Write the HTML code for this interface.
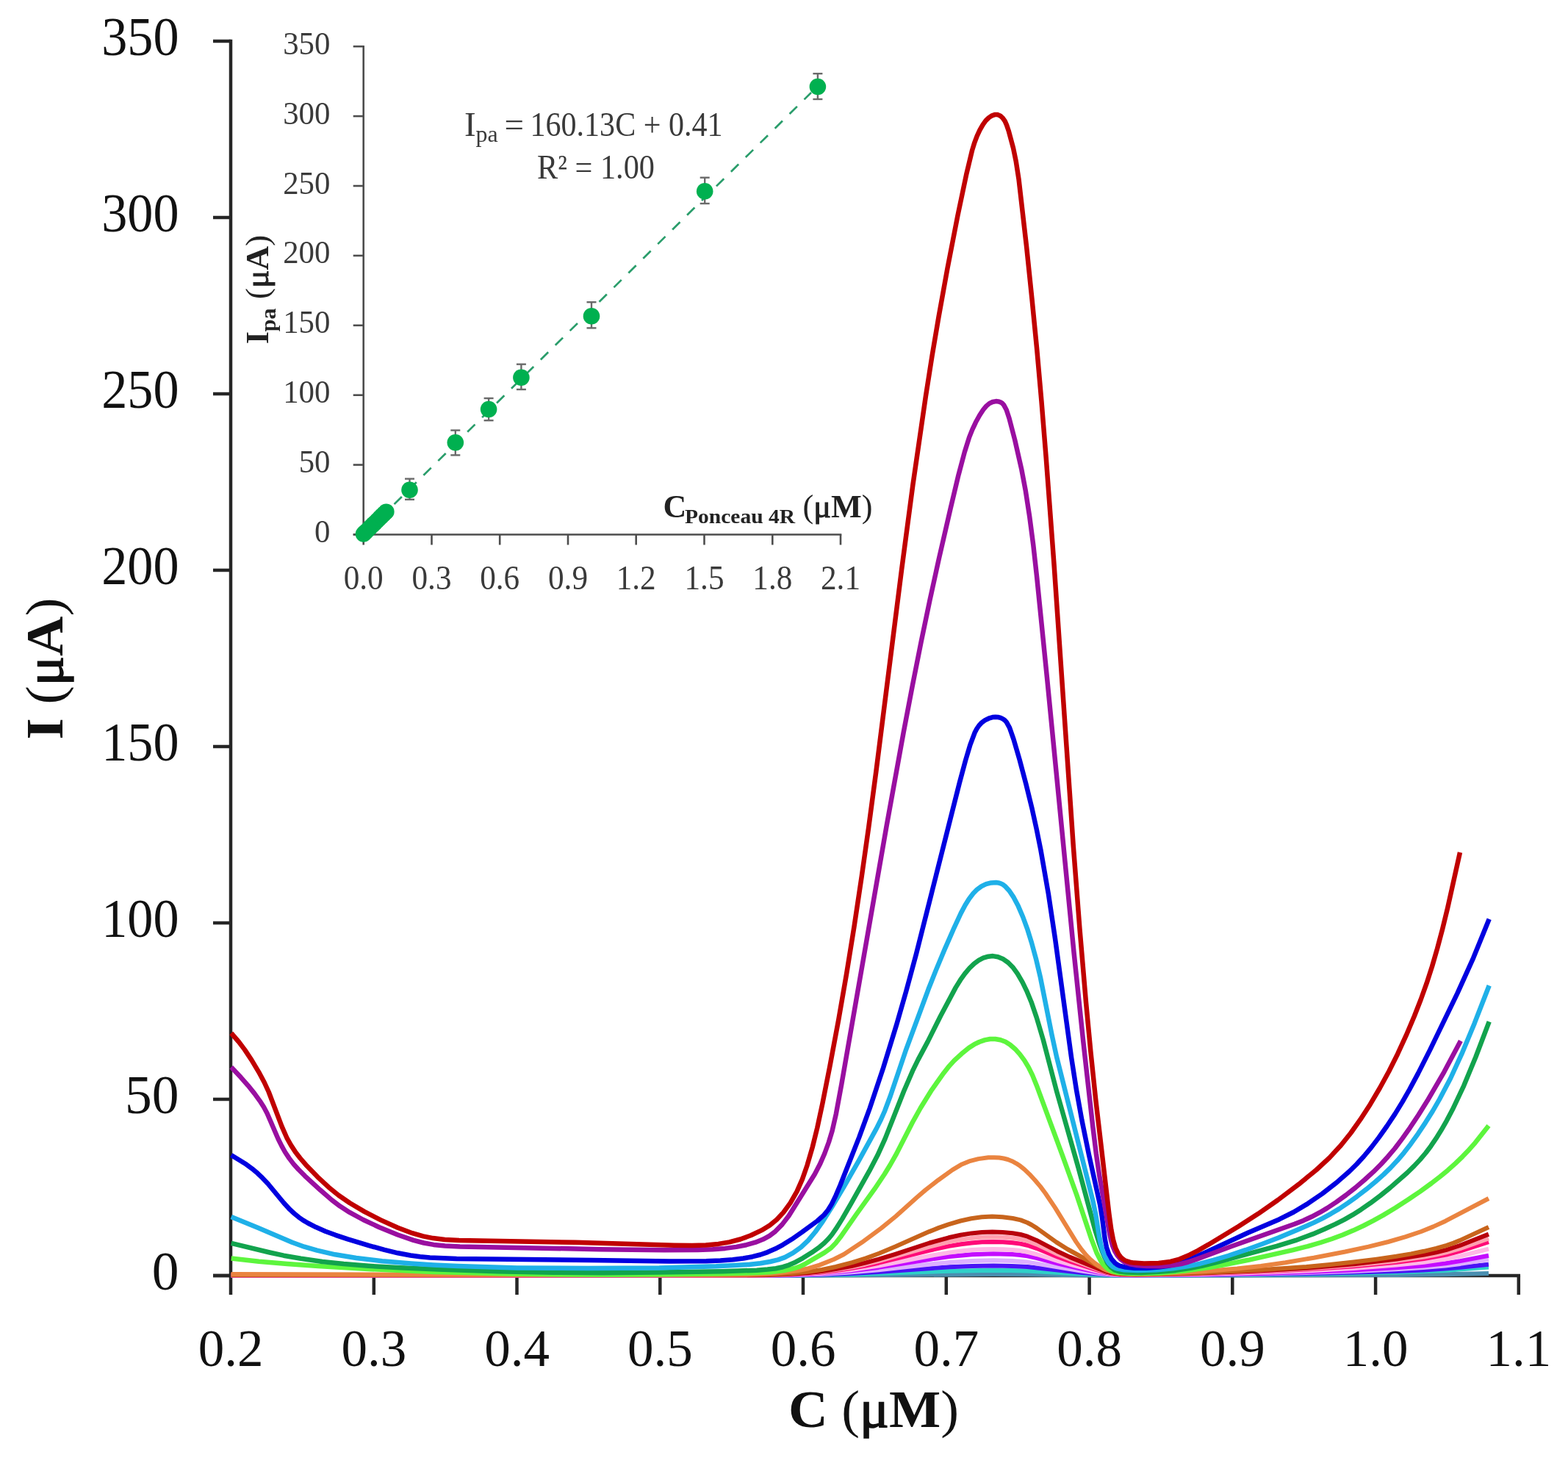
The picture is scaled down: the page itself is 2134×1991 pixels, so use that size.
<!DOCTYPE html><html><head><meta charset="utf-8"><style>html,body{margin:0;padding:0;background:#fff;}svg{display:block}</style></head><body><svg xmlns="http://www.w3.org/2000/svg" width="2134" height="1991" viewBox="0 0 2134 1991">
<rect width="2134" height="1991" fill="#fff"/>
<g stroke="#262626" stroke-width="4.5" fill="none" stroke-linecap="butt">
<line x1="314.0" y1="53.8" x2="314.0" y2="1762.0"/>
<line x1="290.0" y1="1736.0" x2="2069.04" y2="1736.0"/>
<line x1="290.0" y1="1736.0" x2="314.0" y2="1736.0"/>
<line x1="290.0" y1="1496.0" x2="314.0" y2="1496.0"/>
<line x1="290.0" y1="1256.0" x2="314.0" y2="1256.0"/>
<line x1="290.0" y1="1016.0" x2="314.0" y2="1016.0"/>
<line x1="290.0" y1="776.0" x2="314.0" y2="776.0"/>
<line x1="290.0" y1="536.0" x2="314.0" y2="536.0"/>
<line x1="290.0" y1="296.0" x2="314.0" y2="296.0"/>
<line x1="290.0" y1="56.0" x2="314.0" y2="56.0"/>
<line x1="508.8" y1="1736.0" x2="508.8" y2="1762.0"/>
<line x1="703.5" y1="1736.0" x2="703.5" y2="1762.0"/>
<line x1="898.3" y1="1736.0" x2="898.3" y2="1762.0"/>
<line x1="1093.0" y1="1736.0" x2="1093.0" y2="1762.0"/>
<line x1="1287.8" y1="1736.0" x2="1287.8" y2="1762.0"/>
<line x1="1482.6" y1="1736.0" x2="1482.6" y2="1762.0"/>
<line x1="1677.3" y1="1736.0" x2="1677.3" y2="1762.0"/>
<line x1="1872.1" y1="1736.0" x2="1872.1" y2="1762.0"/>
<line x1="2066.8" y1="1736.0" x2="2066.8" y2="1762.0"/>
</g>
<g fill="none" stroke-linejoin="round" stroke-linecap="butt">
<path d="M314.7,1736.0 1076.4,1735.9 1351.5,1734.1 1397.7,1734.3 1512.0,1735.9 1632.8,1735.8 1900.6,1734.9 1966.2,1734.2 2026.0,1733.1" stroke="#4a8fb0" stroke-width="6"/>
<path d="M314.7,1735.9 1076.5,1735.7 1156.9,1734.5 1292.1,1729.7 1351.5,1728.8 1376.2,1729.0 1398.0,1729.6 1477.5,1734.1 1512.1,1735.5 1545.8,1735.7 1633.7,1735.3 1779.4,1733.9 1901.0,1731.4 1966.8,1728.9 2026.0,1724.5" stroke="#2fd0c8" stroke-width="6"/>
<path d="M314.7,1735.8 993.9,1735.9 1076.6,1735.5 1117.4,1734.7 1156.8,1733.2 1195.4,1731.0 1292.4,1724.3 1323.2,1723.0 1352.1,1722.5 1376.9,1722.9 1398.2,1724.1 1472.3,1731.9 1511.9,1735.1 1545.0,1735.6 1628.0,1735.1 1777.9,1733.2 1899.8,1730.0 1937.0,1728.4 1966.7,1726.6 1987.6,1724.8 2026.0,1720.7" stroke="#4a14f5" stroke-width="6"/>
<path d="M314.7,1735.7 994.2,1735.8 1076.6,1735.2 1117.5,1734.0 1156.9,1731.6 1195.4,1728.3 1266.1,1720.5 1292.4,1718.0 1323.2,1716.0 1352.2,1715.3 1377.6,1715.9 1398.4,1717.6 1468.4,1729.1 1495.9,1733.0 1512.2,1734.7 1525.6,1735.3 1544.7,1735.5 1627.6,1734.8 1713.0,1733.4 1777.6,1732.0 1841.6,1729.9 1899.7,1727.3 1937.2,1725.0 1967.0,1722.4 1987.4,1719.9 2026.0,1714.0" stroke="#dcb0ff" stroke-width="6"/>
<path d="M314.7,1735.6 995.1,1735.7 1043.7,1735.5 1077.0,1734.9 1117.7,1733.1 1157.3,1729.6 1195.5,1724.9 1265.8,1713.7 1292.2,1710.0 1322.8,1707.2 1351.9,1706.2 1377.9,1707.0 1388.6,1708.0 1398.4,1709.4 1411.0,1712.1 1441.8,1720.0 1463.8,1725.0 1495.3,1731.5 1512.3,1734.1 1525.6,1735.0 1544.6,1735.3 1626.4,1734.5 1712.2,1732.9 1777.6,1731.0 1841.6,1728.4 1899.6,1725.2 1937.3,1722.4 1967.3,1719.2 1987.3,1716.1 2026.0,1708.8" stroke="#c40cff" stroke-width="6"/>
<path d="M314.7,1735.6 995.8,1735.6 1043.8,1735.4 1077.2,1734.6 1117.8,1732.4 1157.6,1728.3 1195.6,1722.5 1265.7,1709.0 1292.0,1704.6 1308.0,1702.5 1322.7,1701.1 1337.0,1700.3 1351.5,1700.0 1365.1,1700.2 1377.9,1701.0 1388.6,1702.1 1398.3,1703.8 1410.9,1707.0 1441.0,1716.4 1461.7,1722.1 1495.5,1730.6 1512.6,1733.8 1525.7,1734.8 1544.7,1735.1 1629.0,1733.9 1714.0,1731.8 1777.9,1729.4 1842.1,1725.9 1900.2,1721.6 1937.7,1717.8 1968.0,1713.4 1987.2,1709.5 2026.0,1699.7" stroke="#ffb8e6" stroke-width="6"/>
<path d="M314.7,1735.4 996.5,1735.5 1044.0,1735.2 1077.3,1734.3 1098.7,1733.1 1118.0,1731.4 1137.1,1729.2 1158.1,1726.0 1177.0,1722.7 1195.7,1718.7 1265.4,1701.5 1291.6,1695.9 1307.7,1693.2 1322.2,1691.4 1336.6,1690.3 1351.0,1689.9 1364.9,1690.2 1378.0,1691.2 1388.6,1692.6 1398.3,1694.7 1410.6,1698.8 1439.9,1710.6 1458.8,1717.3 1495.6,1729.1 1505.5,1731.8 1512.9,1733.2 1526.0,1734.5 1545.2,1734.8 1630.4,1733.3 1714.6,1730.6 1778.2,1727.6 1842.6,1723.2 1900.5,1717.8 1938.0,1713.0 1968.3,1707.5 1987.2,1702.6 2026.0,1690.1" stroke="#ff0a78" stroke-width="6"/>
<path d="M314.7,1735.3 997.3,1735.4 1044.3,1735.1 1077.6,1734.0 1099.2,1732.6 1118.3,1730.7 1137.4,1728.1 1158.7,1724.5 1177.4,1720.7 1195.9,1716.2 1265.1,1696.6 1291.3,1690.1 1307.4,1687.0 1322.1,1684.9 1336.3,1683.6 1350.7,1683.2 1364.7,1683.6 1378.0,1684.7 1388.8,1686.3 1398.2,1688.7 1410.7,1693.4 1439.3,1706.7 1457.1,1713.9 1495.5,1728.0 1505.6,1731.1 1513.0,1732.9 1526.0,1734.2 1545.3,1734.7 1580.6,1734.3 1630.5,1733.0 1714.9,1730.0 1778.2,1726.7 1842.4,1721.8 1900.5,1715.9 1938.2,1710.5 1954.3,1707.6 1968.5,1704.4 1987.0,1699.2 2026.0,1685.3" stroke="#ffa0b0" stroke-width="6"/>
<path d="M314.7,1735.3 997.6,1735.3 1044.4,1735.0 1077.6,1733.7 1099.3,1732.2 1118.3,1730.1 1137.3,1727.1 1158.9,1723.0 1177.5,1718.7 1196.0,1713.7 1218.4,1706.8 1265.1,1691.5 1291.2,1684.3 1307.3,1680.8 1322.1,1678.4 1336.3,1677.0 1350.6,1676.5 1364.6,1676.9 1378.1,1678.2 1388.8,1680.0 1398.3,1682.7 1410.7,1687.9 1438.8,1702.7 1455.7,1710.6 1495.6,1726.9 1505.8,1730.6 1513.1,1732.5 1526.0,1734.0 1545.4,1734.5 1581.3,1734.0 1631.1,1732.7 1715.3,1729.3 1778.3,1725.7 1842.7,1720.2 1900.6,1713.6 1938.3,1707.6 1954.6,1704.3 1968.7,1700.8 1986.9,1695.0 2026.0,1679.6" stroke="#b8000c" stroke-width="6"/>
<path d="M314.7,1735.0 998.2,1735.1 1044.6,1734.6 1078.1,1732.9 1099.7,1730.8 1118.6,1728.0 1137.5,1724.0 1159.9,1718.1 1178.4,1712.4 1196.4,1705.7 1218.5,1696.5 1264.6,1676.1 1277.7,1670.9 1290.7,1666.4 1307.2,1661.5 1321.9,1658.2 1336.1,1656.3 1350.4,1655.6 1364.4,1656.2 1378.3,1658.0 1389.1,1660.4 1398.4,1664.0 1404.1,1667.0 1410.7,1671.1 1437.9,1690.6 1452.8,1700.0 1495.4,1723.5 1506.0,1728.7 1513.1,1731.3 1519.0,1732.5 1525.9,1733.4 1545.6,1734.2 1580.8,1733.7 1630.4,1732.2 1714.7,1728.2 1778.0,1723.9 1810.0,1721.0 1842.2,1717.5 1873.3,1713.7 1900.4,1709.8 1920.4,1706.4 1938.0,1702.8 1954.6,1698.9 1968.8,1694.8 1978.2,1691.6 1986.8,1688.1 2026.0,1670.0" stroke="#c8641c" stroke-width="6"/>
<path d="M314.7,1734.0 749.6,1735.1 964.3,1734.8 1012.2,1734.3 1040.6,1733.5 1062.6,1732.0 1085.6,1729.2 1100.3,1726.2 1115.3,1721.6 1135.1,1713.8 1148.5,1707.0 1173.0,1690.8 1199.4,1671.4 1219.2,1655.2 1247.6,1629.7 1259.4,1619.6 1276.6,1606.2 1296.2,1592.1 1307.9,1585.1 1318.9,1580.4 1331.5,1577.1 1345.1,1575.3 1352.8,1575.2 1359.8,1575.5 1366.0,1576.5 1371.8,1578.0 1377.3,1580.2 1383.1,1583.3 1388.8,1587.1 1394.4,1591.6 1400.9,1597.8 1408.7,1606.3 1416.0,1614.9 1422.8,1624.0 1436.0,1643.6 1464.6,1690.1 1471.9,1700.5 1478.7,1708.6 1484.1,1714.0 1490.0,1719.0 1496.0,1723.3 1501.6,1726.7 1506.9,1729.0 1512.4,1730.7 1518.5,1731.9 1525.7,1732.7 1537.0,1733.3 1551.7,1733.4 1592.0,1732.4 1641.0,1730.0 1683.8,1726.6 1715.9,1723.0 1749.5,1718.2 1788.0,1711.7 1830.7,1703.5 1862.5,1696.6 1889.4,1690.0 1913.0,1683.2 1934.2,1676.0 1950.6,1669.4 1967.3,1661.7 2026.0,1631.0" stroke="#ea8440" stroke-width="6"/>
<path d="M314.7,1712.6 352.3,1716.7 390.8,1720.0 433.0,1722.9 505.0,1727.2 589.1,1731.0 693.6,1733.6 763.5,1734.5 835.8,1734.7 913.1,1734.3 986.2,1733.3 1027.3,1732.3 1048.9,1731.2 1066.9,1729.1 1081.2,1726.0 1088.4,1723.6 1095.0,1720.5 1122.2,1704.6 1130.6,1698.7 1137.4,1691.8 1143.8,1683.6 1165.5,1652.5 1190.2,1618.2 1203.9,1597.8 1211.4,1585.5 1219.1,1571.9 1242.1,1527.0 1252.7,1508.0 1268.0,1483.3 1284.4,1460.2 1292.0,1450.6 1298.6,1443.4 1310.3,1432.7 1318.6,1426.0 1325.7,1421.4 1332.7,1418.0 1340.2,1415.4 1347.5,1414.0 1354.5,1414.0 1361.7,1415.3 1368.4,1417.8 1374.7,1421.7 1381.4,1427.4 1387.9,1434.6 1394.2,1443.1 1399.9,1452.6 1405.2,1463.4 1410.8,1477.2 1446.1,1572.9 1465.3,1626.1 1485.5,1686.6 1492.4,1704.7 1498.3,1716.3 1501.5,1720.8 1504.7,1724.3 1508.0,1727.0 1511.7,1729.1 1515.8,1730.6 1521.0,1731.8 1530.5,1732.8 1543.4,1733.3 1560.3,1733.1 1579.0,1732.4 1612.2,1729.6 1646.7,1724.7 1671.1,1720.3 1698.8,1714.8 1759.7,1701.1 1779.7,1696.1 1797.2,1691.0 1812.6,1686.0 1827.5,1680.5 1841.6,1674.6 1855.8,1668.0 1869.1,1661.2 1882.7,1653.6 1899.1,1643.7 1916.1,1632.8 1932.6,1621.6 1947.9,1610.5 1959.9,1601.2 1970.6,1592.4 1981.0,1583.1 1990.6,1573.8 1999.3,1564.7 2007.6,1555.3 2026.0,1532.0" stroke="#5df53d" stroke-width="6.5"/>
<path d="M314.7,1691.9 367.0,1704.5 386.1,1708.7 409.5,1712.8 438.7,1717.0 467.7,1720.1 501.5,1722.8 544.4,1725.3 597.2,1727.6 676.8,1730.2 752.9,1731.8 820.5,1732.2 895.1,1731.6 983.3,1730.2 1029.9,1728.7 1044.6,1727.6 1055.9,1726.2 1065.5,1724.2 1073.7,1721.6 1082.6,1717.7 1092.4,1712.3 1104.8,1704.6 1115.4,1697.1 1121.7,1691.8 1127.1,1686.3 1132.4,1680.0 1137.8,1672.2 1146.3,1658.6 1158.4,1637.6 1183.1,1593.7 1194.3,1572.3 1204.5,1549.9 1230.0,1485.3 1241.9,1457.7 1249.5,1442.1 1262.6,1417.6 1279.9,1383.0 1300.7,1343.9 1307.0,1333.7 1313.1,1325.1 1319.5,1317.5 1325.9,1311.3 1332.0,1306.9 1338.2,1303.7 1345.1,1301.7 1351.3,1301.1 1358.2,1302.2 1365.5,1305.3 1372.1,1310.0 1378.3,1316.2 1384.8,1325.1 1391.5,1336.6 1397.7,1349.4 1403.5,1363.4 1410.8,1384.9 1419.7,1414.9 1438.1,1485.2 1467.7,1589.5 1490.5,1674.3 1495.4,1690.1 1499.6,1702.3 1503.6,1711.8 1507.4,1718.9 1511.9,1724.7 1516.9,1728.3 1523.6,1730.5 1532.9,1731.6 1553.1,1731.9 1577.4,1730.8 1600.0,1728.9 1620.3,1725.9 1635.6,1722.9 1653.2,1718.7 1737.5,1695.9 1762.9,1688.2 1786.8,1679.4 1802.4,1672.8 1817.4,1665.9 1829.4,1659.8 1840.7,1653.4 1852.5,1645.9 1865.0,1637.3 1878.6,1627.1 1891.9,1616.4 1915.2,1596.0 1924.5,1586.9 1932.7,1578.1 1940.4,1569.0 1947.4,1559.7 1954.2,1549.7 1961.3,1538.3 1968.9,1525.1 1976.7,1510.3 1992.2,1477.6 2008.4,1438.5 2026.7,1390.4" stroke="#12a34d" stroke-width="6.5"/>
<path d="M314.7,1656.0 351.4,1670.9 397.6,1690.8 414.1,1696.7 431.4,1701.7 456.0,1707.3 484.8,1712.0 520.2,1716.2 559.3,1719.6 589.7,1721.6 622.9,1723.1 703.7,1725.4 800.1,1726.1 897.3,1725.5 974.6,1723.3 1019.1,1720.9 1034.8,1719.2 1048.2,1717.0 1059.1,1714.4 1068.2,1711.1 1079.2,1705.2 1090.1,1697.3 1099.9,1688.1 1109.6,1676.5 1119.9,1662.0 1132.8,1641.5 1148.1,1615.9 1168.5,1580.1 1192.8,1535.9 1199.1,1523.2 1204.2,1511.7 1211.6,1492.0 1232.5,1430.2 1263.5,1346.3 1273.7,1320.6 1285.2,1292.9 1298.0,1263.8 1307.7,1242.9 1313.6,1231.8 1318.9,1223.2 1324.4,1216.0 1330.0,1210.3 1335.8,1206.1 1342.0,1203.1 1348.8,1201.4 1355.6,1201.0 1358.9,1201.4 1361.9,1202.3 1364.7,1203.7 1367.6,1205.8 1373.6,1212.3 1379.7,1221.4 1385.8,1233.1 1392.2,1248.0 1398.2,1264.3 1404.0,1283.0 1410.3,1306.2 1415.9,1330.0 1431.6,1408.7 1438.0,1438.1 1487.2,1633.5 1491.1,1651.9 1496.0,1682.5 1498.2,1693.6 1501.0,1703.3 1504.6,1711.7 1509.1,1719.0 1511.6,1721.6 1514.3,1723.8 1517.3,1725.4 1520.8,1726.6 1530.0,1728.2 1548.1,1729.0 1574.3,1728.2 1596.0,1726.3 1616.0,1723.3 1633.3,1719.7 1651.5,1714.9 1671.5,1709.0 1695.0,1701.2 1717.7,1693.0 1739.9,1684.5 1765.6,1673.8 1787.6,1664.1 1799.8,1658.1 1811.3,1651.8 1822.5,1645.1 1834.1,1637.4 1846.8,1628.3 1859.6,1618.4 1871.9,1608.3 1882.8,1598.6 1892.6,1589.1 1901.8,1579.3 1910.7,1568.8 1919.9,1556.9 1930.0,1542.8 1940.1,1527.6 1949.9,1512.0 1959.1,1496.0 1974.1,1467.5 1989.3,1434.4 2006.8,1392.4 2026.7,1341.3" stroke="#1fb0e8" stroke-width="6.5"/>
<path d="M314.7,1572.1 335.1,1584.6 342.9,1590.3 350.1,1596.3 357.3,1603.2 364.7,1611.0 386.0,1636.7 394.7,1646.2 400.5,1651.5 406.4,1656.3 412.5,1660.6 419.1,1664.5 430.0,1670.1 442.9,1675.7 456.7,1680.8 473.3,1686.3 502.2,1695.1 523.1,1700.9 541.5,1705.3 558.7,1708.5 571.7,1710.3 585.0,1711.6 621.4,1713.0 804.4,1715.0 911.0,1716.6 961.1,1716.3 980.4,1715.5 997.2,1714.2 1011.6,1712.5 1024.2,1710.2 1034.9,1707.5 1044.7,1704.1 1055.0,1699.6 1065.4,1694.1 1077.5,1686.6 1091.4,1676.9 1112.4,1661.5 1121.5,1653.4 1126.9,1646.8 1131.9,1638.6 1137.5,1627.1 1143.8,1612.3 1169.4,1547.4 1183.8,1508.0 1202.1,1453.3 1220.4,1393.8 1233.2,1349.2 1246.8,1298.8 1305.9,1065.1 1313.9,1035.4 1320.3,1013.9 1326.5,997.3 1329.4,991.8 1332.5,987.2 1336.2,983.3 1340.6,980.1 1345.6,977.7 1350.9,976.1 1354.8,975.7 1358.3,976.0 1361.9,976.9 1365.3,978.6 1367.7,980.4 1369.9,982.9 1374.0,990.4 1379.5,1006.1 1387.6,1033.8 1396.4,1067.1 1404.7,1101.1 1410.7,1128.4 1416.4,1156.6 1426.9,1216.7 1436.2,1278.7 1458.1,1439.1 1465.0,1483.4 1472.4,1524.5 1481.9,1571.2 1497.3,1640.6 1499.9,1656.4 1503.8,1686.4 1506.0,1697.4 1509.0,1706.5 1513.0,1713.8 1517.9,1719.2 1520.5,1721.0 1523.6,1722.6 1531.8,1724.6 1544.0,1725.7 1560.5,1725.7 1577.1,1724.6 1588.2,1723.1 1598.6,1720.8 1609.4,1717.4 1622.4,1712.4 1642.8,1703.5 1698.2,1677.8 1740.9,1659.4 1760.7,1649.5 1779.3,1638.4 1799.4,1624.6 1819.0,1609.4 1836.3,1594.3 1846.5,1584.2 1856.3,1573.5 1866.4,1561.4 1876.7,1547.9 1887.6,1532.5 1898.5,1516.1 1908.6,1499.6 1918.1,1483.0 1930.1,1460.6 1946.4,1428.4 1983.4,1351.9 2005.2,1303.6 2026.7,1250.8" stroke="#0000e0" stroke-width="6.5"/>
<path d="M314.7,1452.3 327.9,1466.3 337.6,1477.3 346.3,1488.1 353.7,1498.3 359.1,1506.8 363.6,1515.2 378.6,1550.0 383.4,1559.6 387.9,1567.8 393.6,1576.4 399.7,1584.4 406.4,1591.8 414.9,1600.3 436.2,1619.8 451.6,1633.1 462.8,1641.6 475.8,1649.9 494.4,1660.0 516.3,1670.2 541.4,1680.5 562.8,1687.9 576.8,1691.5 590.2,1693.9 605.6,1695.4 625.9,1696.4 816.1,1700.2 904.1,1701.3 949.7,1701.1 970.0,1700.3 987.0,1698.9 1002.2,1696.9 1015.7,1694.2 1028.2,1690.7 1038.6,1686.6 1047.2,1681.8 1055.2,1675.8 1064.5,1666.4 1073.6,1654.5 1108.8,1598.0 1115.8,1584.6 1122.2,1570.0 1127.9,1554.5 1132.6,1539.0 1137.8,1516.2 1145.3,1475.6 1206.8,1122.9 1229.7,996.6 1241.8,933.2 1253.7,873.2 1265.5,816.7 1277.8,760.6 1293.5,692.5 1304.5,646.3 1312.7,615.5 1319.1,595.1 1323.3,584.6 1327.9,574.8 1333.3,565.0 1338.2,557.5 1342.3,552.6 1346.4,549.1 1350.8,547.0 1355.6,546.1 1358.8,546.4 1361.6,547.3 1364.0,548.8 1366.0,550.9 1369.7,557.7 1373.5,569.3 1381.2,598.8 1390.4,639.3 1395.8,667.9 1401.2,703.1 1406.3,741.8 1411.0,784.2 1425.2,924.5 1461.5,1295.9 1474.4,1418.5 1487.3,1533.3 1491.8,1569.7 1496.1,1599.1 1509.6,1676.3 1512.0,1687.7 1514.4,1696.1 1517.3,1702.9 1520.7,1708.6 1525.5,1714.0 1530.9,1717.7 1537.6,1720.3 1546.1,1721.9 1561.3,1723.0 1580.1,1723.2 1595.0,1722.1 1607.5,1720.0 1617.0,1717.5 1629.3,1713.4 1676.3,1696.0 1761.9,1665.8 1774.1,1660.9 1785.2,1655.8 1795.9,1650.2 1806.2,1644.1 1818.7,1635.9 1831.7,1626.5 1844.9,1616.1 1857.3,1605.5 1869.2,1594.7 1879.4,1584.5 1888.8,1574.2 1898.3,1563.0 1908.4,1549.6 1918.9,1534.8 1930.4,1517.5 1942.4,1498.3 1965.4,1458.8 1987.9,1416.4" stroke="#990fa0" stroke-width="6.5"/>
<path d="M314.7,1406.0 325.1,1418.0 333.1,1428.6 342.4,1442.6 352.1,1458.8 359.7,1473.0 365.7,1486.0 383.4,1532.6 390.7,1549.2 395.9,1558.4 401.8,1567.4 408.4,1576.0 416.3,1585.2 432.1,1601.6 447.3,1615.7 460.9,1626.7 476.2,1637.2 495.9,1648.9 518.3,1660.4 541.3,1670.8 561.1,1678.2 575.8,1682.4 589.5,1685.1 605.4,1686.9 624.9,1688.1 782.8,1690.8 917.6,1694.8 941.9,1695.0 960.6,1694.4 977.7,1692.9 992.7,1690.4 1007.5,1686.5 1021.8,1681.3 1036.3,1674.4 1047.7,1667.4 1057.1,1659.7 1066.1,1650.1 1075.6,1637.1 1084.6,1621.4 1091.9,1604.9 1098.6,1585.7 1105.7,1561.4 1112.3,1534.7 1119.2,1502.6 1129.3,1451.6 1141.2,1388.2 1152.0,1325.9 1162.5,1261.0 1172.8,1192.2 1182.3,1125.3 1192.3,1050.3 1227.2,774.3 1242.4,659.7 1259.9,539.2 1268.5,484.6 1277.4,431.9 1289.4,365.5 1303.4,293.5 1315.1,237.8 1323.2,204.1 1326.4,193.8 1329.7,185.1 1333.4,177.2 1337.7,169.6 1341.6,164.2 1345.8,160.1 1350.1,157.3 1354.3,155.9 1358.0,156.1 1361.5,157.7 1364.7,160.6 1367.7,164.9 1370.0,170.1 1372.6,177.7 1379.0,201.3 1382.8,219.9 1386.6,244.6 1397.1,335.9 1404.5,407.1 1411.2,475.4 1417.4,545.5 1423.6,621.7 1434.6,769.2 1460.8,1151.7 1469.5,1264.5 1478.1,1365.1 1484.5,1432.3 1491.2,1496.2 1509.4,1651.8 1512.4,1673.6 1515.2,1688.0 1518.3,1698.6 1522.2,1706.7 1524.6,1710.0 1527.2,1712.7 1530.3,1714.9 1533.7,1716.4 1537.8,1717.7 1543.2,1718.6 1557.1,1719.5 1576.8,1718.9 1592.9,1716.9 1605.3,1713.6 1619.1,1707.7 1630.5,1701.8 1644.8,1693.7 1685.6,1669.0 1712.7,1651.6 1739.3,1633.0 1767.6,1611.7 1791.6,1592.0 1809.3,1575.6 1825.1,1558.5 1838.3,1542.0 1851.3,1523.7 1864.8,1502.9 1878.0,1480.5 1890.3,1458.0 1902.2,1434.2 1913.8,1408.9 1924.9,1382.8 1933.6,1360.5 1941.6,1338.2 1949.1,1315.0 1956.1,1290.9 1962.9,1265.3 1970.2,1235.4 1987.0,1160.0" stroke="#c00000" stroke-width="6.5"/>
</g>
<g font-family="Liberation Serif, serif" font-size="73.5" fill="#111" text-anchor="end">
<text x="243.5" y="1755.0">0</text>
<text x="243.5" y="1515.0">50</text>
<text x="243.5" y="1275.0" textLength="105.3" lengthAdjust="spacingAndGlyphs">100</text>
<text x="243.5" y="1035.0" textLength="105.3" lengthAdjust="spacingAndGlyphs">150</text>
<text x="243.5" y="795.0" textLength="105.3" lengthAdjust="spacingAndGlyphs">200</text>
<text x="243.5" y="555.0" textLength="105.3" lengthAdjust="spacingAndGlyphs">250</text>
<text x="243.5" y="315.0" textLength="105.3" lengthAdjust="spacingAndGlyphs">300</text>
<text x="243.5" y="75.0" textLength="105.3" lengthAdjust="spacingAndGlyphs">350</text>
</g>
<g font-family="Liberation Serif, serif" font-size="71" fill="#111" text-anchor="middle">
<text x="314.0" y="1859">0.2</text>
<text x="508.8" y="1859">0.3</text>
<text x="703.5" y="1859">0.4</text>
<text x="898.3" y="1859">0.5</text>
<text x="1093.0" y="1859">0.6</text>
<text x="1287.8" y="1859">0.7</text>
<text x="1482.6" y="1859">0.8</text>
<text x="1677.3" y="1859">0.9</text>
<text x="1872.1" y="1859">1.0</text>
<text x="2066.8" y="1859">1.1</text>
</g>
<text font-family="Liberation Serif, serif" font-size="72" font-weight="bold" fill="#111" x="1073" y="1942" textLength="232" lengthAdjust="spacingAndGlyphs">C <tspan font-weight="normal">(</tspan><tspan font-weight="normal" stroke="#111" stroke-width="1.5">μ</tspan>M<tspan font-weight="normal">)</tspan></text>
<text font-family="Liberation Serif, serif" font-size="72" font-weight="bold" fill="#111" transform="translate(84.5,1006.5) rotate(-90)" textLength="193" lengthAdjust="spacingAndGlyphs">I <tspan font-weight="normal">(</tspan><tspan font-weight="normal" stroke="#111" stroke-width="1.5">μ</tspan>A<tspan font-weight="normal">)</tspan></text>
<g stroke="#4d4d4d" stroke-width="2.6" fill="none">
<line x1="494.7" y1="61.90000000000005" x2="494.7" y2="741.5"/>
<line x1="480.7" y1="727.5" x2="1145.32" y2="727.5"/>
<line x1="480.7" y1="727.5" x2="494.7" y2="727.5"/>
<line x1="480.7" y1="632.6" x2="494.7" y2="632.6"/>
<line x1="480.7" y1="537.7" x2="494.7" y2="537.7"/>
<line x1="480.7" y1="442.8" x2="494.7" y2="442.8"/>
<line x1="480.7" y1="347.9" x2="494.7" y2="347.9"/>
<line x1="480.7" y1="253.0" x2="494.7" y2="253.0"/>
<line x1="480.7" y1="158.1" x2="494.7" y2="158.1"/>
<line x1="480.7" y1="63.2" x2="494.7" y2="63.2"/>
<line x1="587.5" y1="727.5" x2="587.5" y2="741.5"/>
<line x1="680.2" y1="727.5" x2="680.2" y2="741.5"/>
<line x1="773.0" y1="727.5" x2="773.0" y2="741.5"/>
<line x1="865.7" y1="727.5" x2="865.7" y2="741.5"/>
<line x1="958.5" y1="727.5" x2="958.5" y2="741.5"/>
<line x1="1051.3" y1="727.5" x2="1051.3" y2="741.5"/>
<line x1="1144.0" y1="727.5" x2="1144.0" y2="741.5"/>
</g>
<g font-family="Liberation Serif, serif" font-size="43.5" fill="#3a3a3a" text-anchor="end">
<text x="449.5" y="738.0" textLength="21.4" lengthAdjust="spacingAndGlyphs">0</text>
<text x="449.5" y="643.1" textLength="42.8" lengthAdjust="spacingAndGlyphs">50</text>
<text x="449.5" y="548.2" textLength="64.3" lengthAdjust="spacingAndGlyphs">100</text>
<text x="449.5" y="453.3" textLength="64.3" lengthAdjust="spacingAndGlyphs">150</text>
<text x="449.5" y="358.4" textLength="64.3" lengthAdjust="spacingAndGlyphs">200</text>
<text x="449.5" y="263.5" textLength="64.3" lengthAdjust="spacingAndGlyphs">250</text>
<text x="449.5" y="168.6" textLength="64.3" lengthAdjust="spacingAndGlyphs">300</text>
<text x="449.5" y="73.7" textLength="64.3" lengthAdjust="spacingAndGlyphs">350</text>
</g>
<g font-family="Liberation Serif, serif" font-size="46" fill="#3a3a3a" text-anchor="middle">
<text x="494.7" y="802" textLength="54.0" lengthAdjust="spacingAndGlyphs">0.0</text>
<text x="587.5" y="802" textLength="54.0" lengthAdjust="spacingAndGlyphs">0.3</text>
<text x="680.2" y="802" textLength="54.0" lengthAdjust="spacingAndGlyphs">0.6</text>
<text x="773.0" y="802" textLength="54.0" lengthAdjust="spacingAndGlyphs">0.9</text>
<text x="865.7" y="802" textLength="54.0" lengthAdjust="spacingAndGlyphs">1.2</text>
<text x="958.5" y="802" textLength="54.0" lengthAdjust="spacingAndGlyphs">1.5</text>
<text x="1051.3" y="802" textLength="54.0" lengthAdjust="spacingAndGlyphs">1.8</text>
<text x="1144.0" y="802" textLength="54.0" lengthAdjust="spacingAndGlyphs">2.1</text>
</g>
<line x1="496.7" y1="725.5" x2="1104" y2="126" stroke="#2a9d6b" stroke-width="2.7" stroke-dasharray="14.5 13.5"/>
<g stroke="#6a6a6a" stroke-width="2.4">
<line x1="557.5" y1="651.6" x2="557.5" y2="679.8"/><line x1="551.0" y1="651.6" x2="564.0" y2="651.6"/><line x1="551.0" y1="679.8" x2="564.0" y2="679.8"/>
<line x1="619.8" y1="585.6" x2="619.8" y2="619.4"/><line x1="613.3" y1="585.6" x2="626.3" y2="585.6"/><line x1="613.3" y1="619.4" x2="626.3" y2="619.4"/>
<line x1="665.1" y1="542.0" x2="665.1" y2="572.2"/><line x1="658.6" y1="542.0" x2="671.6" y2="542.0"/><line x1="658.6" y1="572.2" x2="671.6" y2="572.2"/>
<line x1="709.4" y1="495.7" x2="709.4" y2="530.0"/><line x1="702.9" y1="495.7" x2="715.9" y2="495.7"/><line x1="702.9" y1="530.0" x2="715.9" y2="530.0"/>
<line x1="805.0" y1="411.2" x2="805.0" y2="446.4"/><line x1="798.5" y1="411.2" x2="811.5" y2="411.2"/><line x1="798.5" y1="446.4" x2="811.5" y2="446.4"/>
<line x1="959.2" y1="241.7" x2="959.2" y2="277.0"/><line x1="952.7" y1="241.7" x2="965.7" y2="241.7"/><line x1="952.7" y1="277.0" x2="965.7" y2="277.0"/>
<line x1="1112.9" y1="100.2" x2="1112.9" y2="135.0"/><line x1="1106.4" y1="100.2" x2="1119.4" y2="100.2"/><line x1="1106.4" y1="135.0" x2="1119.4" y2="135.0"/>
</g>
<g fill="#00b050">
<circle cx="494.7" cy="726.7" r="11"/>
<circle cx="496.2" cy="725.2" r="11"/>
<circle cx="497.8" cy="723.7" r="11"/>
<circle cx="500.9" cy="720.7" r="11"/>
<circle cx="504.0" cy="717.6" r="11"/>
<circle cx="507.1" cy="714.6" r="11"/>
<circle cx="510.2" cy="711.6" r="11"/>
<circle cx="513.3" cy="708.5" r="11"/>
<circle cx="516.3" cy="705.5" r="11"/>
<circle cx="519.4" cy="702.4" r="11"/>
<circle cx="522.5" cy="699.4" r="11"/>
<circle cx="525.6" cy="696.4" r="11"/>
<circle cx="557.5" cy="666.7" r="11.3"/>
<circle cx="619.8" cy="602.3" r="11.3"/>
<circle cx="665.1" cy="557.0" r="11.3"/>
<circle cx="709.4" cy="513.8" r="11.3"/>
<circle cx="805.0" cy="430.3" r="11.3"/>
<circle cx="959.2" cy="260.3" r="11.3"/>
<circle cx="1112.9" cy="118.0" r="11.3"/>
</g>
<g font-family="Liberation Serif, serif" fill="#3a3a3a">
<text x="632" y="185.3" font-size="47">I</text>
<text x="647.5" y="193.4" font-size="32">pa</text>
<text x="686.5" y="185.3" font-size="47">=</text>
<text x="721.5" y="185.3" font-size="47" textLength="262" lengthAdjust="spacingAndGlyphs">160.13C + 0.41</text>
<text x="731" y="242.7" font-size="47" textLength="160" lengthAdjust="spacingAndGlyphs">R² = 1.00</text>
</g>
<g font-family="Liberation Serif, serif" font-weight="bold" fill="#222">
<text x="902.5" y="704.3" font-size="44">C</text>
<text x="932" y="712.3" font-size="27" textLength="150" lengthAdjust="spacingAndGlyphs">Ponceau 4R</text>
<text x="1092.5" y="704.3" font-size="44" textLength="95" lengthAdjust="spacingAndGlyphs"><tspan font-weight="normal">(</tspan><tspan font-weight="normal" stroke="#222" stroke-width="1">μ</tspan>M<tspan font-weight="normal">)</tspan></text>
<g transform="translate(365.3,466.7) rotate(-90)">
<text x="-1.5" y="0" font-size="44">I</text>
<text x="15.5" y="10" font-size="30">pa</text>
<text x="59.5" y="0" font-size="44" textLength="87.4" lengthAdjust="spacingAndGlyphs"><tspan font-weight="normal">(</tspan><tspan font-weight="normal" stroke="#222" stroke-width="1">μ</tspan>A<tspan font-weight="normal">)</tspan></text>
</g></g>
</svg></body></html>
